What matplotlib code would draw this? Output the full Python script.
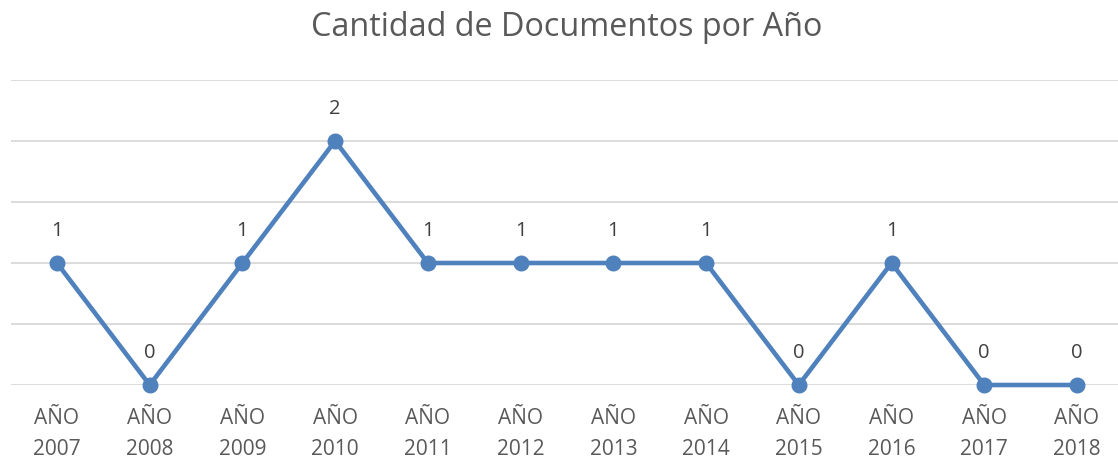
import matplotlib
matplotlib.use("Agg")
import matplotlib.pyplot as plt

years = ["2007", "2008", "2009", "2010", "2011", "2012", "2013", "2014", "2015", "2016", "2017", "2018"]
labels = ["AÑO\n" + y for y in years]
values = [1, 0, 1, 2, 1, 1, 1, 1, 0, 1, 0, 0]

plt.rcParams['font.family'] = ['Open Sans', 'DejaVu Sans']

W, H = 1118, 460
fig = plt.figure(figsize=(W / 100, H / 100), dpi=100)
left_px, right_px = 10.6, 1118
bottom_px, top_px = 386, 81
ax = fig.add_axes([left_px / W, (H - bottom_px) / H, (right_px - left_px) / W, (bottom_px - top_px) / H])

step = (1077 - 57) / 11
xmax = -0.5 + (right_px - left_px) / step
x = list(range(len(values)))
ax.plot(x, values, color="#4F81BD", lw=3.3, marker="o", ms=10.5, clip_on=False,
        solid_joinstyle="miter", zorder=3)
for xi, v in zip(x, values):
    ax.annotate(str(v), (xi, v), xytext=(0, 24), textcoords="offset points",
                ha="center", va="center", fontsize=14.5, color="#404040")

ax.set_xlim(-0.5, xmax)
ax.set_ylim(0, 2.5)
ax.set_yticks([0, 0.5, 1, 1.5, 2, 2.5])
ax.yaxis.grid(True, color="#D9D9D9", lw=1.3)
ax.set_axisbelow(True)
ax.tick_params(axis="y", left=False, labelleft=False)
ax.set_xticks(x)
ax.set_xticklabels(labels, fontsize=15, color="#595959", linespacing=1.6)
ax.tick_params(axis="x", length=0, pad=16)
for s in ax.spines.values():
    s.set_visible(False)

fig.text(567 / W, 1 - 28 / H, "Cantidad de Documentos por Año", ha="center", va="center",
         fontsize=23.3, color="#595959")

fig.savefig("out.png", dpi=100, facecolor="white")
